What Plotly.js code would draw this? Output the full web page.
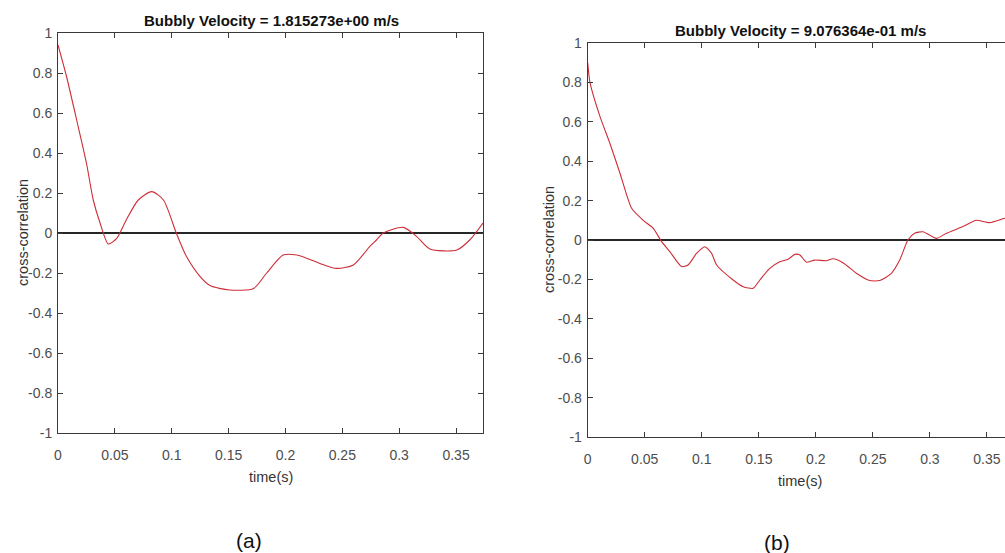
<!DOCTYPE html>
<html>
<head>
<meta charset="utf-8">
<script src="https://cdn.plot.ly/plotly-3.0.1.min.js"></script>
<style>
html, body { margin:0; padding:0; overflow:hidden; background:#fff; }
#chart { width:1016px; height:553px; }
</style>
</head>
<body>
<div id="chart"></div>
<script>
// Panel (a)
const timeA = [0, 0.0076, 0.0164, 0.025, 0.031, 0.037, 0.0443, 0.0516, 0.060, 0.0706, 0.0824, 0.0927, 0.104, 0.113, 0.125, 0.1337, 0.151, 0.172, 0.1835, 0.198, 0.21, 0.2157, 0.2304, 0.245, 0.2597, 0.274, 0.280, 0.286, 0.3037, 0.3155, 0.327, 0.3507, 0.362, 0.3737];
const corrA = [0.94, 0.78, 0.565, 0.35, 0.165, 0.05, -0.055, -0.027, 0.065, 0.165, 0.207, 0.165, 0.0, -0.118, -0.218, -0.263, -0.285, -0.277, -0.2, -0.11, -0.11, -0.12, -0.152, -0.177, -0.16, -0.068, -0.035, 0.0, 0.028, -0.018, -0.08, -0.085, -0.035, 0.05];

// Panel (b)
const timeB = [0, 0.002, 0.0108, 0.0195, 0.0283, 0.0385, 0.0487, 0.0575, 0.0648, 0.072, 0.0823, 0.088, 0.0954, 0.1027, 0.1086, 0.113, 0.1275, 0.1363, 0.145, 0.1509, 0.1596, 0.1684, 0.1757, 0.1815, 0.186, 0.1918, 0.199, 0.2093, 0.215, 0.2238, 0.2355, 0.2472, 0.256, 0.2662, 0.2735, 0.2807, 0.2866, 0.2939, 0.3056, 0.3144, 0.3289, 0.3406, 0.3523, 0.3654, 0.3737];
const corrB = [0.9, 0.8, 0.626, 0.49, 0.339, 0.161, 0.1, 0.059, -0.008, -0.059, -0.135, -0.127, -0.068, -0.034, -0.068, -0.127, -0.203, -0.237, -0.245, -0.203, -0.144, -0.11, -0.098, -0.073, -0.076, -0.113, -0.102, -0.105, -0.095, -0.115, -0.169, -0.206, -0.206, -0.169, -0.102, 0.0, 0.034, 0.042, 0.008, 0.034, 0.068, 0.1, 0.088, 0.11, 0.12];

const titleA = "Bubbly Velocity = 1.815273e+00 m/s";
const titleB = "Bubbly Velocity = 9.076364e-01 m/s";
const xTickVals = [0, 0.05, 0.1, 0.15, 0.2, 0.25, 0.3, 0.35];
const xTickText = ["0", "0.05", "0.1", "0.15", "0.2", "0.25", "0.3", "0.35"];
const yTickVals = [1, 0.8, 0.6, 0.4, 0.2, 0, -0.2, -0.4, -0.6, -0.8, -1];
const yTickText = ["1", "0.8", "0.6", "0.4", "0.2", "0", "-0.2", "-0.4", "-0.6", "-0.8", "-1"];
const xLabel = "time(s)";
const yLabel = "cross-correlation";
const panelLabels = ["(a)", "(b)"];

const W = 1016, H = 553;
const FONT = "Liberation Sans, Arial, Helvetica, sans-serif";
const lineColor = "rgb(205,45,55)";

function px(x) { return x / W; }
function py(y) { return 1 - y / H; }

const traces = [
  { x: timeA, y: corrA, xaxis: "x", yaxis: "y", type: "scatter", mode: "lines",
    line: { color: lineColor, width: 1.1, shape: "spline", smoothing: 0.7 }, hoverinfo: "skip" },
  { x: timeB, y: corrB, xaxis: "x2", yaxis: "y2", type: "scatter", mode: "lines",
    line: { color: lineColor, width: 1.1, shape: "spline", smoothing: 0.6 }, hoverinfo: "skip" }
];

function xax(domain, anchor) {
  return {
    domain: domain, anchor: anchor, range: [0, 0.3737],
    showline: true, mirror: "ticks", linecolor: "#3a3a3a", linewidth: 1,
    ticks: "inside", ticklen: 5, tickcolor: "#3a3a3a", tickwidth: 1,
    tickmode: "array", tickvals: xTickVals, ticktext: xTickText,
    showgrid: false, zeroline: false, ticklabelstandoff: 9,
    tickfont: { family: FONT, size: 14, color: "#4d4d4d" }
  };
}
function yax(domain, anchor) {
  return {
    domain: domain, anchor: anchor, range: [-1, 1],
    showline: true, mirror: "ticks", linecolor: "#3a3a3a", linewidth: 1,
    ticks: "inside", ticklen: 5, tickcolor: "#3a3a3a", tickwidth: 1,
    tickmode: "array", tickvals: yTickVals, ticktext: yTickText,
    showgrid: false, zeroline: true, zerolinecolor: "#262626", zerolinewidth: 1.2,
    ticklabelstandoff: 2,
    tickfont: { family: FONT, size: 14, color: "#4d4d4d" }
  };
}

const ann = (text, x, y, size, opts) => Object.assign({
  text: text, xref: "paper", yref: "paper", x: px(x), y: py(y),
  xanchor: "center", yanchor: "middle", showarrow: false,
  font: { family: FONT, size: size, color: "#222" }
}, opts || {});

const layout = {
  width: W, height: H,
  margin: { l: 0, r: 0, t: 0, b: 0 },
  paper_bgcolor: "#fff", plot_bgcolor: "#fff",
  showlegend: false,
  xaxis: xax([px(58), px(483)], "y"),
  yaxis: yax([py(433), py(33)], "x"),
  xaxis2: xax([px(587.7), px(1014)], "y2"),
  yaxis2: yax([py(437), py(43)], "x2"),
  annotations: [
    ann("<b>" + titleA + "</b>", 271, 20, 15, { font: { family: FONT, size: 15, color: "#111" } }),
    ann("<b>" + titleB + "</b>", 800, 30, 15, { font: { family: FONT, size: 15, color: "#111" } }),
    ann(xLabel, 271, 477, 14.5, { font: { family: FONT, size: 14.5, color: "#333" } }),
    ann(xLabel, 800, 481, 14.5, { font: { family: FONT, size: 14.5, color: "#333" } }),
    ann(yLabel, 23, 233, 14.5, { textangle: -90, font: { family: FONT, size: 14.5, color: "#333" } }),
    ann(yLabel, 549, 240, 14.5, { textangle: -90, font: { family: FONT, size: 14.5, color: "#333" } }),
    ann(panelLabels[0], 249, 540, 21, { font: { family: FONT, size: 21, color: "#111" } }),
    ann(panelLabels[1], 777, 542, 21, { font: { family: FONT, size: 21, color: "#111" } })
  ]
};

Plotly.newPlot("chart", traces, layout, { staticPlot: true, displayModeBar: false });
</script>
</body>
</html>
